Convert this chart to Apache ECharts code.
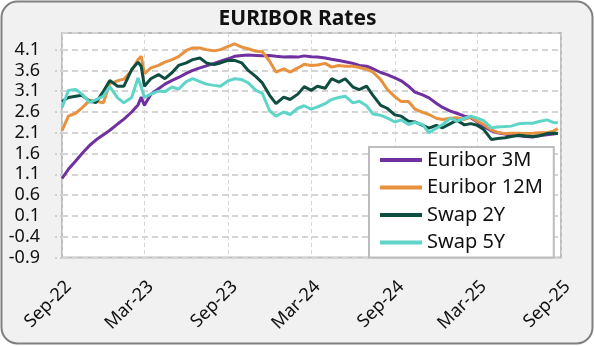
<!DOCTYPE html>
<html>
<head>
<meta charset="utf-8">
<script src="https://cdn.jsdelivr.net/npm/echarts@6/dist/echarts.min.js"></script>
<style>
html,body{margin:0;padding:0;background:#ffffff;}
#chart{width:595px;height:346px;}
</style>
</head>
<body>
<div id="chart"></div>
<script>
// ---- data ----
const dates = [
'2022-09-01','2022-09-15','2022-10-01','2022-10-15','2022-11-01','2022-11-15','2022-12-01','2022-12-15',
'2023-01-01','2023-01-15','2023-02-01','2023-02-15','2023-02-22','2023-03-01','2023-03-15','2023-04-01','2023-04-15',
'2023-05-01','2023-05-15','2023-06-01','2023-06-15','2023-07-01','2023-07-15','2023-08-01','2023-08-15',
'2023-09-01','2023-09-15','2023-10-01','2023-10-15','2023-11-01','2023-11-15','2023-12-01','2023-12-15',
'2024-01-01','2024-01-15','2024-02-01','2024-02-15','2024-03-01','2024-03-15','2024-04-01','2024-04-15',
'2024-05-01','2024-05-15','2024-06-01','2024-06-15','2024-07-01','2024-07-15','2024-08-01','2024-08-15',
'2024-09-01','2024-09-15','2024-10-01','2024-10-15','2024-11-01','2024-11-15','2024-12-01','2024-12-15',
'2025-01-01','2025-01-15','2025-02-01','2025-02-15','2025-03-01','2025-03-15','2025-04-01','2025-04-15',
'2025-05-01','2025-05-15','2025-06-01','2025-06-15','2025-07-01','2025-07-15','2025-08-01','2025-08-15','2025-08-25'
];
const euribor3M = [
1.00,1.22,1.42,1.60,1.80,1.93,2.05,2.16,
2.31,2.43,2.60,2.77,2.96,2.76,3.02,3.16,3.27,
3.36,3.43,3.53,3.60,3.66,3.71,3.77,3.82,
3.88,3.94,3.96,3.97,3.96,3.95,3.96,3.94,
3.92,3.93,3.92,3.95,3.93,3.92,3.90,3.87,
3.84,3.81,3.77,3.72,3.70,3.64,3.55,3.50,
3.42,3.35,3.22,3.08,3.01,2.94,2.81,2.71,
2.62,2.57,2.50,2.46,2.36,2.25,2.15,2.10,
2.07,2.04,2.03,2.01,2.00,2.03,2.05,2.07,2.09
];
const euribor12M = [
2.15,2.50,2.57,2.70,2.88,2.86,2.82,3.28,
3.35,3.39,3.60,3.86,3.94,3.52,3.66,3.72,3.80,
3.86,3.93,4.08,4.14,4.14,4.10,4.07,4.10,
4.18,4.24,4.16,4.12,4.06,4.05,3.82,3.56,
3.64,3.56,3.66,3.75,3.72,3.73,3.77,3.68,
3.72,3.70,3.70,3.67,3.63,3.56,3.38,3.15,
2.97,2.85,2.85,2.67,2.59,2.54,2.45,2.42,
2.45,2.46,2.42,2.48,2.38,2.30,2.17,2.11,
2.08,2.09,2.09,2.08,2.09,2.10,2.10,2.14,2.20
];
const swap2Y = [
2.85,2.95,2.98,3.00,2.86,2.83,3.10,3.36,
3.22,3.22,3.62,3.80,3.70,3.22,3.40,3.50,3.40,
3.55,3.72,3.78,3.86,3.90,3.78,3.74,3.78,
3.84,3.84,3.78,3.60,3.45,3.30,3.00,2.80,
2.96,2.90,3.03,3.21,3.12,3.22,3.17,3.40,
3.32,3.40,3.20,3.14,3.22,3.00,2.76,2.69,
2.53,2.50,2.38,2.36,2.28,2.21,2.28,2.22,
2.32,2.40,2.29,2.32,2.28,2.18,1.94,1.96,
1.98,2.01,2.04,2.02,2.01,2.03,2.08,2.09,2.08
];
const swap5Y = [
2.70,3.12,3.14,3.03,2.83,2.90,2.98,3.21,
2.94,2.82,2.95,3.42,3.20,2.95,3.03,3.10,3.09,
3.20,3.15,3.33,3.40,3.33,3.27,3.24,3.22,
3.35,3.40,3.38,3.30,3.12,3.05,2.63,2.50,
2.60,2.54,2.69,2.75,2.67,2.72,2.80,2.90,
2.95,2.98,2.82,2.86,2.75,2.55,2.52,2.46,
2.36,2.41,2.30,2.35,2.30,2.10,2.21,2.30,
2.45,2.38,2.45,2.50,2.45,2.39,2.22,2.24,
2.25,2.26,2.32,2.33,2.33,2.37,2.41,2.35,2.34
];
const seriesNames = ['Euribor 3M','Euribor 12M','Swap 2Y','Swap 5Y'];
const seriesColors = ['#7030A0','#E8913F','#0E4D40','#5FD4C9'];
const xTickDates = ['2022-09-01','2023-03-01','2023-09-01','2024-03-01','2024-09-01','2025-03-01','2025-09-01'];
const xTickLabels = ['Sep-22','Mar-23','Sep-23','Mar-24','Sep-24','Mar-25','Sep-25'];
const yMin = -0.9, yMax = 4.5, yStep = 0.5;
const titleText = 'EURIBOR Rates';

// ---- build ----
function ts(s){const p=s.split('-').map(Number);return Date.UTC(p[0],p[1]-1,p[2]);}
const tickTs = xTickDates.map(ts);
const allValues = [euribor3M, euribor12M, swap2Y, swap5Y];
const FONT = 'Noto Sans';

const chart = echarts.init(document.getElementById('chart'), null, {renderer:'canvas'});
chart.setOption({
  animation:false,
  textStyle:{fontFamily:FONT},
  graphic:[{
    type:'rect', z:-100, silent:true,
    shape:{x:1.5,y:1.5,width:591,height:342,r:16},
    style:{fill:'#f1f1f1',stroke:'#808080',lineWidth:2}
  }],
  title:{
    text:titleText, left:'center', top:4,
    textStyle:{fontFamily:FONT,fontSize:21,fontWeight:'bold',color:'#111'}
  },
  grid:{
    left:62, right:34, top:33, bottom:88.5,
    show:true, backgroundColor:'#ffffff', borderColor:'#bdbdbd', borderWidth:2
  },
  legend:{
    data:seriesNames, orient:'vertical', left:369, top:147,
    icon:'rect', itemWidth:42, itemHeight:4, itemGap:5.5,
    padding:[2,11,4,11],
    backgroundColor:'#ffffff', borderColor:'#bdbdbd', borderWidth:2, borderRadius:0,
    textStyle:{fontFamily:FONT,fontSize:20,color:'#111',lineHeight:22}
  },
  xAxis:{
    type:'value', min:tickTs[0], max:tickTs[tickTs.length-1],
    axisLine:{show:false},
    axisTick:{show:false, customValues:tickTs},
    axisLabel:{
      customValues:tickTs, rotate:45, margin:20, fontSize:18, color:'#111', fontFamily:FONT,
      verticalAlign:'top',
      formatter:function(v){const i=tickTs.indexOf(v);return i>=0?xTickLabels[i]:'';}
    },
    splitLine:{show:true,lineStyle:{color:'#d6d6d6',width:1,type:[4,3]}}
  },
  yAxis:{
    type:'value', min:yMin, max:yMax, interval:yStep,
    axisLine:{show:false},
    axisTick:{show:true,length:9,lineStyle:{color:'#cfcfcf',width:2,type:[2,3]}},
    axisLabel:{
      showMaxLabel:false, margin:22, fontSize:18, color:'#111', fontFamily:FONT,
      formatter:function(v){return v.toFixed(1);}
    },
    splitLine:{show:true,lineStyle:{color:'#d4d4d4',width:2,type:[6,4]}}
  },
  series: seriesNames.map(function(name,k){
    return {
      name:name, type:'line', symbol:'none', smooth:false,
      data: dates.map(function(d,i){return [ts(d), allValues[k][i]];}),
      lineStyle:{color:seriesColors[k],width:3},
      itemStyle:{color:seriesColors[k]}
    };
  })
});
</script>
</body>
</html>
